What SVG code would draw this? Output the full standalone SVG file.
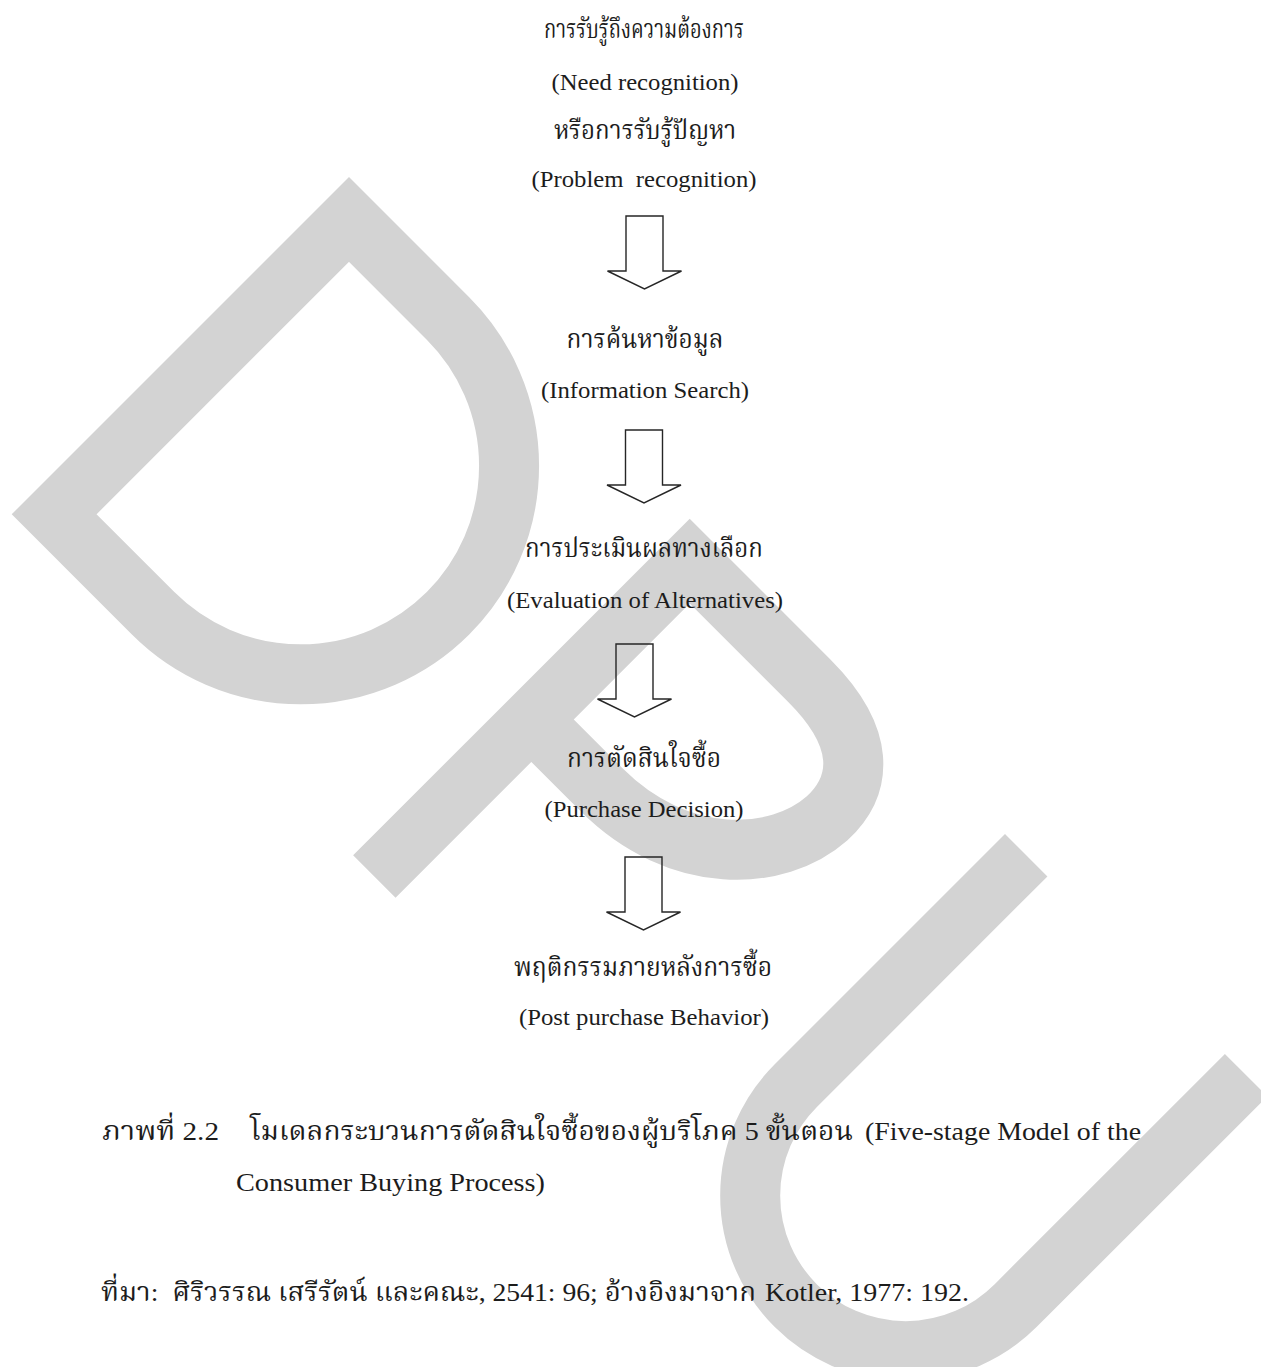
<svg xmlns="http://www.w3.org/2000/svg" width="1261" height="1367" viewBox="0 0 1261 1367">
<style>
.wm{fill:none;stroke:#d3d3d3;stroke-width:60;stroke-linejoin:miter;stroke-miterlimit:10;stroke-linecap:butt}
.th{font-family:"Liberation Serif","Noto Serif Thai","Noto Sans Thai","Angsana New","Garuda","Loma","Norasi","DejaVu Serif",serif;font-size:26px;fill:#1c1c1c;text-anchor:middle}
.en{font-family:"Liberation Serif","Times New Roman",serif;font-size:23.5px;fill:#1c1c1c;text-anchor:middle}
.cap{font-family:"Liberation Serif","Noto Serif Thai","Noto Sans Thai","Angsana New","Garuda","Loma","Norasi","DejaVu Serif",serif;font-size:26px;fill:#1c1c1c}
.arrow{fill:none;stroke:#262626;stroke-width:1.4;stroke-linejoin:miter}
</style>
<defs>
<polygon id="blockArrow" class="arrow" points="-18.5,0 18.5,0 18.5,55 37,55 0,73 -37,55 -18.5,55"/>
</defs>
<rect width="1261" height="1367" fill="#ffffff"/>
<g id="watermark">
<path class="wm" transform="translate(349,177) rotate(45)" d="M170,30 L30,30 L30,447 L170,447 A208,208 0 0 0 170,30 Z"/>
<path class="wm" transform="translate(689,518) rotate(45)" d="M31,476 L31,30 L200,30 C280,30 312,65 310,115 C306,180 240,254 130,254 L31,254"/>
<path class="wm" transform="translate(1005,834) rotate(45)" d="M30,0 L30,326 A155.5,155.5 0 0 0 341,326 L341,0"/>
</g>
<g id="connectors">
<use href="#blockArrow" transform="translate(644.5,216)"/>
<use href="#blockArrow" transform="translate(644,430)"/>
<use href="#blockArrow" transform="translate(634.5,644)"/>
<use href="#blockArrow" transform="translate(643.5,857)"/>
</g>
<g id="need-recognition">
<text class="th" x="644" y="38" textLength="200" lengthAdjust="spacingAndGlyphs">การรับรู้ถึงความต้องการ</text>
<text class="en" x="645" y="90" textLength="187" lengthAdjust="spacingAndGlyphs">(Need recognition)</text>
<text class="th" x="645" y="139" textLength="182" lengthAdjust="spacingAndGlyphs">หรือการรับรู้ปัญหา</text>
<text class="en" x="644" y="187" textLength="225" lengthAdjust="spacingAndGlyphs" xml:space="preserve">(Problem  recognition)</text>
</g>
<g id="information-search">
<text class="th" x="645" y="348" textLength="157" lengthAdjust="spacingAndGlyphs">การค้นหาข้อมูล</text>
<text class="en" x="645" y="398" textLength="208" lengthAdjust="spacingAndGlyphs">(Information Search)</text>
</g>
<g id="evaluation">
<text class="th" x="644" y="557" textLength="238" lengthAdjust="spacingAndGlyphs">การประเมินผลทางเลือก</text>
<text class="en" x="645" y="608" textLength="276" lengthAdjust="spacingAndGlyphs">(Evaluation of Alternatives)</text>
</g>
<g id="purchase-decision">
<text class="th" x="644" y="767" textLength="154" lengthAdjust="spacingAndGlyphs">การตัดสินใจซื้อ</text>
<text class="en" x="644" y="817" textLength="199" lengthAdjust="spacingAndGlyphs">(Purchase Decision)</text>
</g>
<g id="post-purchase">
<text class="th" x="643" y="976" textLength="258" lengthAdjust="spacingAndGlyphs">พฤติกรรมภายหลังการซื้อ</text>
<text class="en" x="644" y="1025" textLength="250" lengthAdjust="spacingAndGlyphs">(Post purchase Behavior)</text>
</g>
<g id="caption">
<text class="cap" x="102" y="1140" textLength="117" lengthAdjust="spacingAndGlyphs">ภาพที่ 2.2</text>
<text class="cap" x="250" y="1140" textLength="603" lengthAdjust="spacingAndGlyphs">โมเดลกระบวนการตัดสินใจซื้อของผู้บริโภค 5 ขั้นตอน</text>
<text class="cap" x="865" y="1140" textLength="276" lengthAdjust="spacingAndGlyphs">(Five-stage Model of the</text>
<text class="cap" x="236" y="1191" textLength="309" lengthAdjust="spacingAndGlyphs">Consumer Buying Process)</text>
</g>
<g id="source">
<text class="cap" x="101" y="1301" textLength="655" lengthAdjust="spacingAndGlyphs" xml:space="preserve">ที่มา:  ศิริวรรณ เสรีรัตน์ และคณะ, 2541: 96; อ้างอิงมาจาก</text>
<text class="cap" x="765" y="1301" textLength="204" lengthAdjust="spacingAndGlyphs">Kotler, 1977: 192.</text>
</g>
</svg>
